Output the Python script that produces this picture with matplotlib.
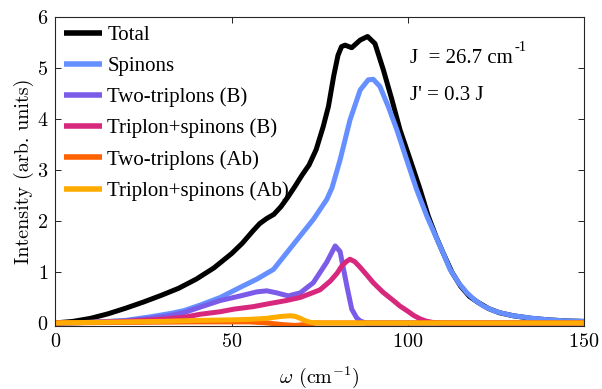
import numpy as np
import matplotlib
matplotlib.use("Agg")
import matplotlib.pyplot as plt

# ============================================================
# 0. Data
# ============================================================
w_total = [0, 5, 10, 15, 20, 25, 30, 35, 40, 45, 50, 53, 56, 58, 60, 62, 64, 66, 68,
           70, 72, 74, 76, 77.5, 79, 80.2, 81.2, 82.2, 84.1, 86.5, 88.6, 90.7, 93.1,
           95.5, 97.8, 100.7, 103.5, 105.8, 108, 110, 112.5, 115, 117.5, 120, 123,
           126, 130, 135, 140, 145, 150]
i_total = [0.0, 0.03, 0.09, 0.18, 0.29, 0.41, 0.54, 0.68, 0.86, 1.08, 1.36, 1.56, 1.80,
           1.95, 2.05, 2.13, 2.28, 2.47, 2.68, 2.90, 3.10, 3.40, 3.85, 4.25, 4.85, 5.25,
           5.42, 5.45, 5.40, 5.55, 5.62, 5.48, 4.96, 4.38, 3.79, 3.20, 2.62, 2.10, 1.70,
           1.38, 1.00, 0.72, 0.52, 0.40, 0.28, 0.20, 0.14, 0.09, 0.06, 0.04, 0.03]

w_spinons = [0, 10, 20, 27, 33, 36.4, 41.1, 46.8, 52.5, 57.2, 61.9, 65.7, 69.5, 73.2,
             77, 78.5, 80.8, 83.6, 86.5, 88.8, 90.2, 92.1, 94.5, 96.9, 99.7, 102.5,
             105.4, 107.3, 110, 112, 114.5, 116.8, 119, 121.5, 124, 126.2, 130, 135.6,
             140, 145, 150]
i_spinons = [0.0, 0.01, 0.05, 0.12, 0.19, 0.24, 0.35, 0.50, 0.70, 0.86, 1.05, 1.38,
             1.71, 2.03, 2.42, 2.65, 3.20, 3.98, 4.57, 4.77, 4.78, 4.64, 4.24, 3.79,
             3.20, 2.62, 2.10, 1.80, 1.38, 1.05, 0.78, 0.59, 0.45, 0.33, 0.25, 0.20,
             0.14, 0.09, 0.06, 0.04, 0.03]

w_tt_b = [0, 10, 20, 27, 33, 36.4, 41.1, 46.8, 52.5, 57.2, 60, 62.8, 66.1, 69.5, 73.2,
          77, 79.4, 80.8, 81.5, 82.7, 84.1, 85.5, 86.5, 88, 150]
i_tt_b = [0.0, 0.01, 0.04, 0.09, 0.15, 0.20, 0.31, 0.44, 0.53, 0.61, 0.63, 0.59, 0.53,
          0.59, 0.79, 1.19, 1.51, 1.40, 1.15, 0.73, 0.27, 0.10, 0.04, 0.0, 0.0]

w_ts_b = [0, 10, 20, 30, 36.4, 41.1, 46.8, 50.6, 56.2, 60, 65.6, 69.5, 73.3, 75.1, 78,
          80, 81.3, 82.5, 83.6, 85, 86.5, 88.5, 90.2, 93, 95.9, 97.8, 100, 101.6,
          103.5, 105, 107, 110, 150]
i_ts_b = [0.0, 0.01, 0.03, 0.07, 0.11, 0.17, 0.22, 0.27, 0.32, 0.37, 0.44, 0.50, 0.60,
          0.65, 0.82, 0.98, 1.12, 1.20, 1.25, 1.20, 1.09, 0.93, 0.79, 0.60, 0.44, 0.33,
          0.23, 0.15, 0.08, 0.04, 0.01, 0.0, 0.0]

w_tt_ab = [0, 20, 40, 55, 60, 64, 68, 71, 74, 150]
i_tt_ab = [0.0, 0.01, 0.02, 0.02, 0.0, -0.03, -0.05, -0.03, 0.0, 0.0]

w_ts_ab = [0, 10, 20, 30, 41, 50, 55, 60, 62, 64.5, 66.6, 68, 69.5, 71, 72.5, 75, 150]
i_ts_ab = [0.0, 0.01, 0.02, 0.03, 0.05, 0.06, 0.07, 0.09, 0.11, 0.13, 0.14, 0.13, 0.09,
           0.04, 0.01, 0.0, 0.0]

series = [
    ("Total", w_total, i_total, "#000000"),
    ("Spinons", w_spinons, i_spinons, "#6690ff"),
    ("Two-triplons (B)", w_tt_b, i_tt_b, "#7b5ce8"),
    ("Triplon+spinons (B)", w_ts_b, i_ts_b, "#d8287e"),
    ("Two-triplons (Ab)", w_tt_ab, i_tt_ab, "#ff6200"),
    ("Triplon+spinons (Ab)", w_ts_ab, i_ts_ab, "#ffab00"),
]

# ============================================================
# 1. Figure
# ============================================================
plt.rcParams["mathtext.fontset"] = "cm"
plt.rcParams["axes.formatter.use_mathtext"] = True

fig = plt.figure(figsize=(6.02, 3.89), dpi=100)
ax = fig.add_axes([0.092, 0.162, 0.878, 0.794])

for label, w, inten, color in series:
    ax.plot(w, inten, color=color, lw=3.6, label=label,
            solid_capstyle="butt", solid_joinstyle="round")

ax.set_xlim(0, 150)
ax.set_ylim(-0.06, 6)
ax.set_xticks([0, 50, 100, 150])
ax.set_yticks([0, 1, 2, 3, 4, 5, 6])

ax.tick_params(direction="in", top=True, right=True, length=4, width=0.6,
               labelsize=14.5, labelfontfamily="cmr10", pad=5)
for sp in ax.spines.values():
    sp.set_linewidth(0.8)
    sp.set_color("#262626")

ax.set_xlabel(r"$\omega$ (cm$^{\mathregular{-1}}$)", fontsize=14.5, family="cmr10", labelpad=10)
ax.set_ylabel("Intensity (arb. units)", fontsize=14.5, family="cmr10", labelpad=2)

leg = ax.legend(loc="upper left", bbox_to_anchor=(0.0, 1.0), frameon=False,
                prop={"family": "Liberation Serif", "size": 15},
                handlelength=1.85, handletextpad=0.25, labelspacing=0.55,
                borderaxespad=0.1, borderpad=0.3)
for h in leg.legend_handles:
    h.set_linewidth(4)

tfont = {"family": "Liberation Serif", "size": 15}
ax.text(100.7, 5.18, "J  = 26.7 cm", va="center", ha="left", **tfont)
ax.text(130.2, 5.40, "-1", va="center", ha="left", family="Liberation Serif", size=10.5)
ax.text(100.7, 4.47, "J' = 0.3 J", va="center", ha="left", **tfont)

fig.savefig("out.png", dpi=100)
plt.close(fig)
